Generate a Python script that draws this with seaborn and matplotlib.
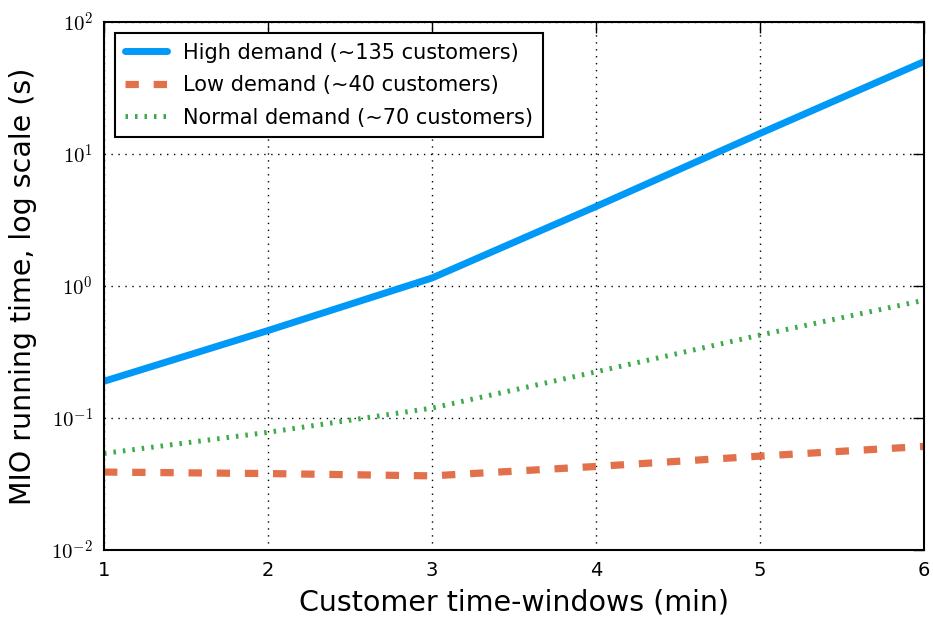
import numpy as np
import pandas as pd
import matplotlib
matplotlib.use("Agg")
import matplotlib.pyplot as plt
import matplotlib.ticker as mticker
import seaborn as sns

# Customer time-window widths (min)
windows = [1, 2, 3, 4, 5, 6]

# MIO running time (s) per demand level
high_demand = [0.19, 0.46, 1.15, 4.0, 14.3, 50.0]
low_demand = [0.039, 0.038, 0.0365, 0.043, 0.0515, 0.061]
normal_demand = [0.054, 0.078, 0.119, 0.224, 0.425, 0.78]

labels = [
    "High demand (~135 customers)",
    "Low demand (~40 customers)",
    "Normal demand (~70 customers)",
]
colors = ["#0099F7", "#E2704A", "#3DAA4C"]

sns.set_style("white")
plt.rcParams.update({
    "font.family": ["DejaVu Sans"],
    "mathtext.fontset": "cm",
    "text.color": "black",
    "axes.labelcolor": "black",
    "xtick.color": "black",
    "ytick.color": "black",
    "xtick.direction": "in",
    "ytick.direction": "in",
    "xtick.top": True,
    "ytick.right": True,
    "axes.edgecolor": "black",
    "axes.linewidth": 1.5,
})

fig = plt.figure(figsize=(9.33, 6.23), dpi=100)
ax = fig.add_axes([0.1115, 0.117, 0.8788, 0.8478])

series = [high_demand, low_demand, normal_demand]
styles = [
    dict(linewidth=5, linestyle="-"),
    dict(linewidth=5.2, linestyle=(0, (1.85, 2.05))),
    dict(linewidth=3.6, linestyle=(0, (0.5, 1.4))),
]
for vals, lab, col, st in zip(series, labels, colors, styles):
    df = pd.DataFrame({"window": windows, "time": vals})
    sns.lineplot(data=df, x="window", y="time", ax=ax, color=col,
                 label=lab, dash_capstyle="butt", **st)

ax.set_yscale("log")
ax.set_xlim(1, 6)
ax.set_ylim(1e-2, 1e2)
ax.set_xticks(windows)
ax.yaxis.set_major_locator(mticker.LogLocator(base=10, numticks=10))
ax.yaxis.set_minor_locator(mticker.NullLocator())
ax.yaxis.set_major_formatter(
    mticker.FuncFormatter(lambda v, p: r"$10^{%d}$" % int(round(np.log10(v)))))
ax.tick_params(axis="both", which="major", length=8, width=1,
               color="black", labelcolor="black", labelsize=14, pad=8)
ax.tick_params(axis="y", labelsize=15)

ax.grid(True, which="major", color="black", linestyle=(0, (1, 4)),
        linewidth=1)

ax.set_xlabel("Customer time-windows (min)", fontsize=20.5, labelpad=6,
              color="black")
ax.set_ylabel("MIO running time, log scale (s)", fontsize=20.5, labelpad=10,
              color="black")

leg = ax.legend(loc="upper left", fontsize=15, frameon=True, fancybox=False,
                edgecolor="black", framealpha=1, handlelength=2.0,
                borderaxespad=0.55, labelspacing=0.6, borderpad=0.45)
leg.get_frame().set_linewidth(1.5)
for t in leg.get_texts():
    t.set_color("black")

for sp in ax.spines.values():
    sp.set_color("black")
    sp.set_linewidth(1.5)

fig.savefig("out.png", dpi=100)
